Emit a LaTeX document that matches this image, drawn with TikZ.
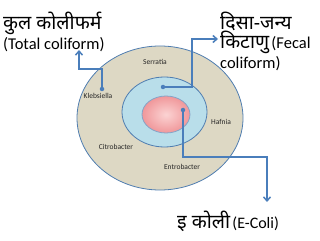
\documentclass[tikz,border=0pt]{standalone}
\usepackage{fontspec}
\setmainfont{Carlito}
\newfontfamily\hindi[Script=Devanagari]{Noto Sans}
\usetikzlibrary{arrows.meta}
\definecolor{outerfill}{HTML}{DDD8C4}
\definecolor{ringline}{HTML}{4F7DB0}
\definecolor{midfill}{HTML}{B9DEEA}
\definecolor{innerlight}{HTML}{FBD3D3}
\definecolor{innerdark}{HTML}{F0979A}
\definecolor{arrowblue}{HTML}{4A7EBB}

\begin{document}
\begin{tikzpicture}[x=1pt,y=-1pt,
  ring/.style={draw=ringline, line width=0.8pt},
  bug/.style={font=\fontsize{7.5}{9}\selectfont, text=black!85},
  link/.style={draw=arrowblue, line width=1.5pt, -{Straight Barb[length=4pt,width=7pt]}},
  dot/.style={circle, fill=arrowblue, inner sep=0pt, minimum size=4.5pt},
  big/.style={font=\hindi\fontsize{19.5}{23}\selectfont},
  eng/.style={font=\fontsize{16.5}{19}\selectfont}]
\useasboundingbox (0,0) rectangle (320,240);
\filldraw[ring, fill=outerfill] (160,118) ellipse [x radius=83, y radius=72];
\filldraw[ring, fill=midfill] (164.5,112) ellipse [x radius=42.5, y radius=35];
\shade[inner color=innerlight, outer color=innerdark] (166,114.5) ellipse [x radius=24, y radius=18.5];
\draw[ring, draw=ringline!70] (166,114.5) ellipse [x radius=24, y radius=18.5];
\node[bug] (serratia) at (155,62) {Serratia};
\node[bug] (klebsiella) at (98,96) {Klebsiella};
\node[bug] (hafnia) at (221,122) {Hafnia};
\node[bug] (citrobacter) at (116,147) {Citrobacter};
\node[bug] (entrobacter) at (182,167) {Entrobacter};
\node[big, anchor=west, inner sep=0pt] (totalHi) at (3,23) {कुल कोलीफर्म};
\node[eng, anchor=west, inner sep=0pt] (totalEn) at (3,45) {(Total coliform)};
\node[big, anchor=west, inner sep=0pt] (fecalHi) at (220,21) {दिसा-जन्य};
\node[anchor=west, inner sep=0pt] (fecalMix) at (220,42) {{\hindi\fontsize{19.5}{23}\selectfont किटाणु} {\fontsize{16.5}{19}\selectfont (Fecal}};
\node[eng, anchor=west, inner sep=0pt] (fecalEn) at (220,64) {coliform)};
\node[anchor=west, inner sep=0pt] (ecoli) at (177,221) {{\hindi\fontsize{19.5}{23}\selectfont इ कोली} {\fontsize{16}{19}\selectfont (E-Coli)}};
\node[dot] (totalDot) at (102,89) {};
\node[dot] (fecalDot) at (163,87) {};
\node[dot] (ecoliDot) at (183,110) {};
\coordinate (totalTip) at (79,50);
\coordinate (fecalTip) at (218,39);
\coordinate (ecoliTip) at (267,202);
\draw[link] (totalDot.center) -- (102,69) -| (totalTip);
\draw[link] (fecalDot.center) -| (192,39) -- (fecalTip);
\draw[link] (ecoliDot.center) |- (267,157) -- (ecoliTip);
\end{tikzpicture}
\end{document}
